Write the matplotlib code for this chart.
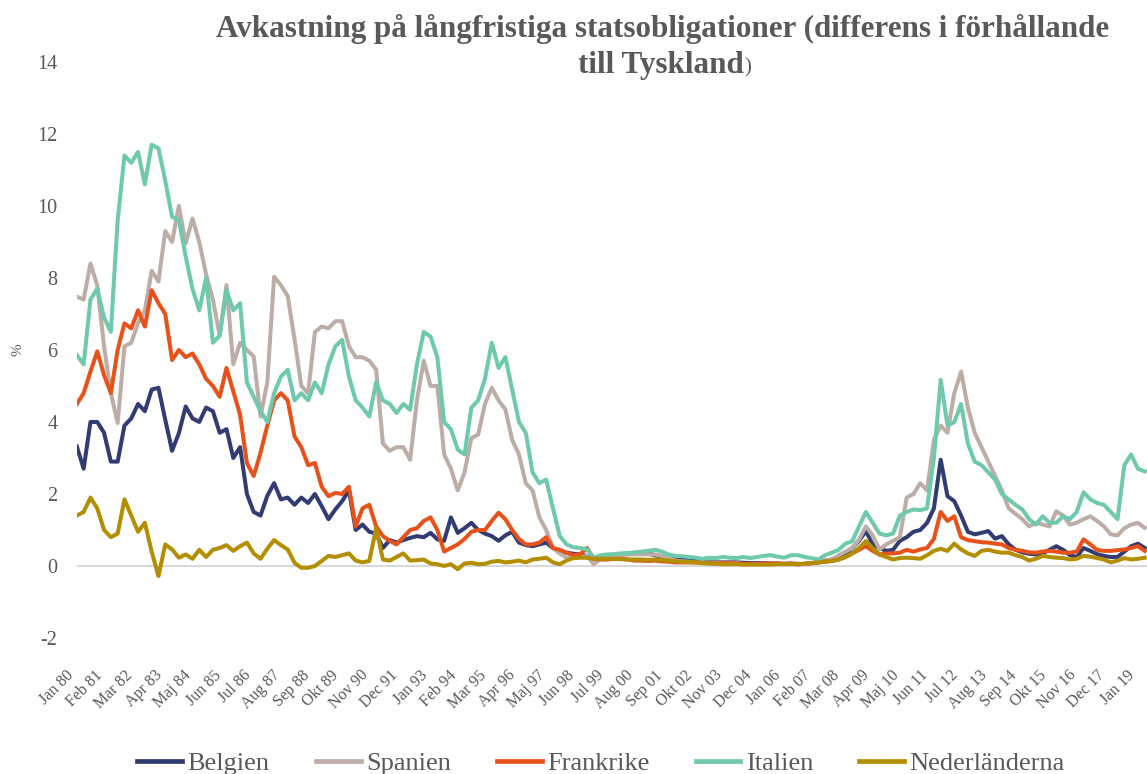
import numpy as np
import matplotlib
matplotlib.use("Agg")
import matplotlib.pyplot as plt

plt.rcParams["font.family"] = ["Liberation Serif", "DejaVu Serif"]
plt.rcParams["axes.unicode_minus"] = False
GRAY = "#595959"

# quarterly readings (every 3rd month from Jan 1980), spread vs Germany in %
belgien = [3.32, 2.7, 4.0, 4.0, 3.7, 2.9, 2.9, 3.9, 4.1, 4.5, 4.3, 4.9, 4.95, 4.06, 3.2, 3.69,
           4.43, 4.1, 4.0, 4.4, 4.3, 3.7, 3.8, 3.0, 3.3, 2.0, 1.5, 1.4, 1.95, 2.3, 1.85, 1.9,
           1.7, 1.9, 1.75, 2.0, 1.66, 1.3, 1.57, 1.8, 2.1, 1.0, 1.15, 0.95, 0.9, 0.5, 0.72, 0.65,
           0.72, 0.78, 0.83, 0.8, 0.92, 0.74, 0.7, 1.35, 0.92, 1.05, 1.2, 1.0, 0.9, 0.83, 0.7, 0.85,
           0.95, 0.65, 0.58, 0.55, 0.6, 0.65, 0.5, 0.42, 0.37, 0.34, 0.32, 0.28, 0.23, 0.25, 0.27, 0.28,
           0.32, 0.35, 0.36, 0.37, 0.35, 0.3, 0.25, 0.22, 0.2, 0.18, 0.16, 0.14, 0.13, 0.12, 0.11, 0.11,
           0.11, 0.1, 0.09, 0.08, 0.08, 0.08, 0.07, 0.07, 0.06, 0.06, 0.05, 0.06, 0.08, 0.1, 0.15, 0.18,
           0.25, 0.33, 0.5, 0.7, 0.97, 0.6, 0.5, 0.42, 0.45, 0.7, 0.8, 0.95, 1.0, 1.2, 1.6, 2.95,
           1.94, 1.8, 1.4, 0.95, 0.88, 0.92, 0.97, 0.76, 0.83, 0.6, 0.45, 0.38, 0.34, 0.32, 0.35, 0.45,
           0.55, 0.45, 0.3, 0.25, 0.5, 0.42, 0.33, 0.28, 0.25, 0.25, 0.4, 0.55, 0.62, 0.5]
spanien = [7.48, 7.4, 8.4, 7.8, 6.1, 4.8, 3.97, 6.1, 6.2, 6.75, 7.1, 8.2, 7.9, 9.3, 9.0, 10.0,
           8.96, 9.65, 9.0, 8.1, 7.4, 6.4, 7.8, 5.6, 6.2, 6.0, 5.82, 4.15, 5.1, 8.03, 7.8, 7.5,
           6.3, 5.0, 4.8, 6.5, 6.65, 6.6, 6.8, 6.8, 6.1, 5.8, 5.8, 5.7, 5.45, 3.4, 3.2, 3.3,
           3.3, 2.95, 4.6, 5.7, 5.0, 5.0, 3.1, 2.7, 2.1, 2.6, 3.55, 3.65, 4.5, 4.95, 4.6, 4.35,
           3.5, 3.1, 2.3, 2.1, 1.35, 1.0, 0.5, 0.35, 0.23, 0.23, 0.25, 0.28, 0.05, 0.2, 0.25, 0.28,
           0.3, 0.32, 0.32, 0.33, 0.32, 0.32, 0.28, 0.22, 0.15, 0.13, 0.12, 0.1, 0.1, 0.1, 0.1, 0.1,
           0.1, 0.08, 0.05, 0.05, 0.05, 0.05, 0.06, 0.06, 0.06, 0.07, 0.07, 0.05, 0.07, 0.1, 0.15, 0.18,
           0.3, 0.4, 0.5, 0.74, 1.1, 0.85, 0.46, 0.6, 0.7, 0.8, 1.9, 2.0, 2.3, 2.1, 3.5, 3.9,
           3.7, 4.8, 5.4, 4.4, 3.7, 3.3, 2.9, 2.5, 2.1, 1.6, 1.45, 1.3, 1.1, 1.2, 1.15, 1.1,
           1.52, 1.4, 1.15, 1.2, 1.3, 1.38, 1.25, 1.1, 0.88, 0.85, 1.05, 1.15, 1.2, 1.06]
frankrike = [4.5, 4.8, 5.4, 5.96, 5.3, 4.8, 6.0, 6.74, 6.6, 7.1, 6.65, 7.66, 7.3, 7.0, 5.72, 6.0,
             5.8, 5.9, 5.6, 5.2, 5.0, 4.7, 5.5, 4.85, 4.2, 2.86, 2.5, 3.14, 3.9, 4.6, 4.8, 4.6,
             3.6, 3.3, 2.8, 2.86, 2.2, 1.94, 2.03, 2.0, 2.2, 1.1, 1.6, 1.7, 1.1, 0.83, 0.7, 0.6,
             0.8, 1.0, 1.05, 1.25, 1.35, 1.0, 0.4, 0.5, 0.6, 0.75, 0.95, 1.0, 1.0, 1.25, 1.48, 1.3,
             1.0, 0.75, 0.6, 0.6, 0.65, 0.8, 0.5, 0.45, 0.37, 0.3, 0.33, 0.5, 0.2, 0.18, 0.18, 0.2,
             0.2, 0.18, 0.15, 0.15, 0.14, 0.15, 0.13, 0.12, 0.1, 0.1, 0.1, 0.1, 0.08, 0.08, 0.07, 0.08,
             0.08, 0.07, 0.06, 0.06, 0.06, 0.07, 0.07, 0.07, 0.06, 0.07, 0.05, 0.06, 0.08, 0.1, 0.12, 0.14,
             0.18, 0.25, 0.35, 0.45, 0.55, 0.42, 0.32, 0.35, 0.35, 0.37, 0.45, 0.4, 0.46, 0.5, 0.75, 1.5,
             1.25, 1.38, 0.8, 0.72, 0.69, 0.66, 0.65, 0.62, 0.6, 0.5, 0.45, 0.42, 0.38, 0.37, 0.4, 0.42,
             0.4, 0.37, 0.37, 0.4, 0.74, 0.6, 0.45, 0.42, 0.42, 0.44, 0.46, 0.5, 0.55, 0.42]
italien = [5.86, 5.6, 7.4, 7.7, 6.9, 6.5, 9.6, 11.4, 11.2, 11.5, 10.6, 11.7, 11.6, 10.7, 9.7, 9.6,
           8.6, 7.7, 7.1, 8.0, 6.2, 6.4, 7.66, 7.1, 7.3, 5.1, 4.7, 4.3, 4.0, 4.8, 5.26, 5.45,
           4.6, 4.8, 4.6, 5.1, 4.8, 5.6, 6.1, 6.28, 5.26, 4.6, 4.4, 4.15, 5.1, 4.6, 4.5, 4.25,
           4.5, 4.34, 5.6, 6.5, 6.37, 5.8, 4.0, 3.8, 3.23, 3.1, 4.4, 4.6, 5.2, 6.2, 5.5, 5.8,
           4.9, 4.0, 3.7, 2.6, 2.3, 2.4, 1.6, 0.83, 0.6, 0.52, 0.5, 0.46, 0.23, 0.3, 0.32, 0.33,
           0.35, 0.36, 0.38, 0.4, 0.42, 0.45, 0.4, 0.32, 0.28, 0.27, 0.25, 0.23, 0.2, 0.23, 0.22, 0.25,
           0.23, 0.22, 0.25, 0.22, 0.25, 0.28, 0.3, 0.26, 0.23, 0.3, 0.3, 0.25, 0.22, 0.18, 0.3, 0.37,
           0.45, 0.62, 0.69, 1.1, 1.5, 1.2, 0.9, 0.85, 0.9, 1.4, 1.5, 1.57, 1.55, 1.6, 3.0, 5.17,
           3.9, 4.0, 4.5, 3.4, 2.9, 2.8, 2.6, 2.4, 2.0, 1.85, 1.7, 1.57, 1.3, 1.15, 1.38, 1.2,
           1.2, 1.38, 1.3, 1.5, 2.05, 1.85, 1.75, 1.7, 1.5, 1.3, 2.8, 3.1, 2.7, 2.63]
nederlanderna = [1.4, 1.5, 1.9, 1.6, 1.0, 0.8, 0.9, 1.85, 1.4, 0.95, 1.2, 0.4, -0.28, 0.6, 0.46, 0.23,
                 0.32, 0.2, 0.45, 0.25, 0.45, 0.5, 0.58, 0.42, 0.55, 0.65, 0.35, 0.2, 0.48, 0.72, 0.58, 0.46,
                 0.09, -0.05, -0.05, 0.0, 0.14, 0.28, 0.25, 0.3, 0.35, 0.15, 0.1, 0.14, 1.05, 0.18, 0.15, 0.25,
                 0.35, 0.15, 0.16, 0.18, 0.07, 0.05, 0.0, 0.05, -0.09, 0.07, 0.09, 0.05, 0.06, 0.12, 0.14, 0.1,
                 0.12, 0.15, 0.1, 0.18, 0.2, 0.23, 0.1, 0.05, 0.15, 0.22, 0.23, 0.23, 0.2, 0.2, 0.2, 0.2,
                 0.19, 0.18, 0.18, 0.18, 0.17, 0.18, 0.17, 0.15, 0.13, 0.12, 0.11, 0.1, 0.08, 0.07, 0.06, 0.05,
                 0.05, 0.05, 0.04, 0.04, 0.04, 0.04, 0.04, 0.05, 0.05, 0.05, 0.05, 0.06, 0.08, 0.1, 0.12, 0.14,
                 0.18, 0.25, 0.35, 0.5, 0.69, 0.5, 0.32, 0.25, 0.18, 0.22, 0.23, 0.22, 0.2, 0.3, 0.42, 0.48,
                 0.42, 0.62, 0.46, 0.35, 0.28, 0.42, 0.45, 0.4, 0.37, 0.37, 0.3, 0.25, 0.15, 0.2, 0.28, 0.25,
                 0.23, 0.22, 0.18, 0.2, 0.28, 0.26, 0.22, 0.18, 0.1, 0.15, 0.22, 0.18, 0.2, 0.23]

tick_labels = ["Jan 80", "Feb 81", "Mar 82", "Apr 83", "Maj 84", "Jun 85", "Jul 86", "Aug 87",
               "Sep 88", "Okt 89", "Nov 90", "Dec 91", "Jan 93", "Feb 94", "Mar 95", "Apr 96",
               "Maj 97", "Jun 98", "Jul 99", "Aug 00", "Sep 01", "Okt 02", "Nov 03", "Dec 04",
               "Jan 06", "Feb 07", "Mar 08", "Apr 09", "Maj 10", "Jun 11", "Jul 12", "Aug 13",
               "Sep 14", "Okt 15", "Nov 16", "Dec 17", "Jan 19"]

SERIES = [  # (label, values, color)
    ("Belgien",       belgien,       "#323c73"),
    ("Spanien",       spanien,       "#bcaea7"),
    ("Frankrike",     frankrike,     "#e8511a"),
    ("Italien",       italien,       "#6ec9ad"),
    ("Nederländerna", nederlanderna, "#b38f00"),
]

fig = plt.figure(figsize=(11.47, 7.74), dpi=100)
ax = fig.add_axes([0.067, 0.1757, 0.933, 0.7443])

ax.axhline(0, color="#d9d9d9", lw=1.5, zorder=0)
for label, vals, color in SERIES:
    x = np.arange(len(vals)) * 3  # month index
    ax.plot(x, vals, color=color, lw=2.9, label=label, solid_joinstyle="round")

ax.set_xlim(0, 472)
ax.set_ylim(-2, 14)
ax.set_yticks(range(-2, 15, 2))
ax.set_xticks(np.arange(len(tick_labels)) * 13)
ax.set_xticklabels(tick_labels, rotation=45, ha="right", va="top")
ax.tick_params(axis="x", length=0, pad=21, labelsize=11.5, labelcolor=GRAY)
ax.tick_params(axis="y", length=0, pad=14, labelsize=14.5, labelcolor=GRAY)
for s in ax.spines.values():
    s.set_visible(False)

fig.text(0.016, 0.548, "%", rotation=90, ha="center", va="center", fontsize=11, color=GRAY)

fig.text(0.578, 0.952, "Avkastning på långfristiga statsobligationer (differens i förhållande",
         ha="center", va="baseline", fontsize=22.4, fontweight="bold", color=GRAY)
t2 = fig.text(0.576, 0.906, "till Tyskland", ha="center", va="baseline",
              fontsize=22.4, fontweight="bold", color=GRAY)
fig.canvas.draw()
bb = t2.get_window_extent()
fig.text(bb.x1 / fig.bbox.width + 0.001, 0.906, ")", ha="left", va="baseline",
         fontsize=15, color=GRAY)

fig.legend(loc="center", bbox_to_anchor=(0.524, 0.014), ncol=5, frameon=False,
           fontsize=19, handlelength=1.7, handletextpad=0.2, columnspacing=1.75,
           labelcolor=GRAY)
for h in fig.legends[0].get_lines():
    h.set_linewidth(3.4)

fig.savefig("out.png", dpi=100)
